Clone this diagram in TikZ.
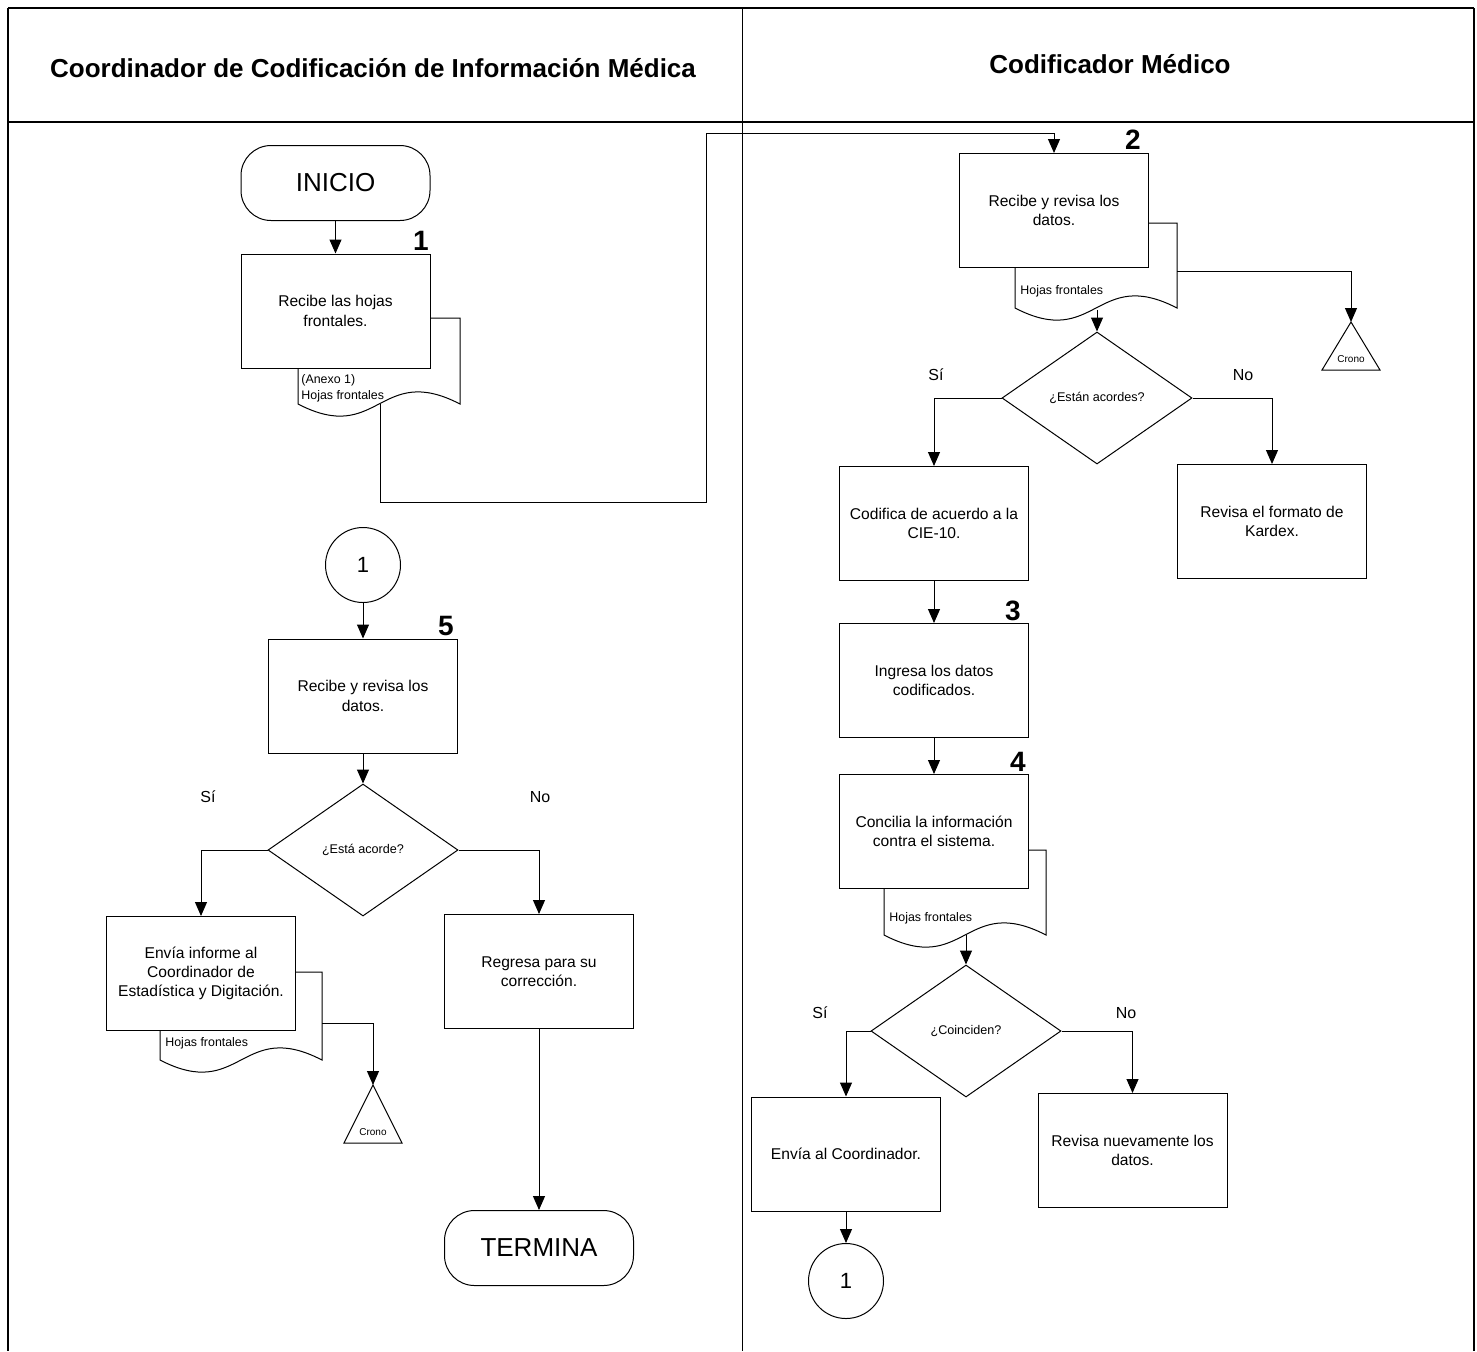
\documentclass[tikz,border=0pt]{standalone}
\usepackage{fontspec}
\setmainfont{Liberation Sans}
\usetikzlibrary{arrows.meta,positioning,calc,shapes.geometric}

% hoja (documento) detras de una caja: izq, fondo caja, der caja, arriba, der, base
\newcommand{\hojas}[6]{%
  \pgfmathsetmacro\hm{(#1+#5)/2}
  \draw[line] (#3,#4) -- (#5,#4) -- (#5,#6)
    .. controls (\hm,#6-42) and (\hm,#6+42) .. (#1,#6) -- (#1,#2);}
\newcommand{\crono}[4]{%
  \coordinate (#1) at (#2,#3);
  \draw[line] (#1) -- ++(-29,#4) -- ++(58,0) -- cycle;
  \node[font=\fontsize{5}{5}\selectfont] at ($(#1)+(0,#4-11)$) {Crono};}

\begin{document}
\begin{tikzpicture}[x=0.5pt,y=-0.5pt]
  \tikzset{line/.style={draw,line width=.5pt},
    box/.style={draw,line width=.5pt,minimum width=94.5pt,minimum height=57pt,
      align=center,inner sep=2pt,font=\fontsize{7.8}{9.6}\selectfont},
    decision/.style={diamond,draw,line width=.5pt,minimum width=95pt,minimum height=66pt,
      inner sep=0pt,aspect=1.44,font=\fontsize{6.3}{7}\selectfont},
    terminal/.style={rectangle,rounded corners=15pt,draw,line width=.5pt,minimum width=94.5pt,
      minimum height=37.5pt,font=\fontsize{13}{13}\selectfont},
    connector/.style={circle,draw,line width=.5pt,minimum size=37.5pt,inner sep=0pt,
      font=\fontsize{11}{11}\selectfont},
    flow/.style={line width=.5pt,-{Triangle[length=7pt,width=6pt]}},
    stepno/.style={font=\fontsize{14}{14}\bfseries\selectfont},
    doctext/.style={anchor=west,align=left,inner sep=0pt,font=\fontsize{6.2}{8}\selectfont},
    answer/.style={font=\fontsize{8}{8}\selectfont},
    lanehead/.style={font=\fontsize{13}{13}\bfseries\selectfont}}
  \useasboundingbox (0,0) rectangle (1477,1351);

  % carriles
  \draw[line width=1pt] (8,8) -- (1474,8);
  \draw[line width=1pt] (8,122) -- (1474,122);
  \draw[line width=.8pt] (8,8) -- (8,1351);
  \draw[line width=.8pt] (1474,8) -- (1474,1351);
  \draw[line width=.5pt] (742,8) -- (742,1351);
  \node[lanehead] (lane1) at (373,68) {Coordinador de Codificación de Información Médica};
  \node[lanehead] (lane2) at (1110,64) {Codificador Médico};

  % Coordinador
  \node[terminal] (inicio) at (335.5,183) {INICIO};
  \node[box] (recibe) at (335.5,311) {Recibe las hojas\\frontales.};
  \node[stepno] at (421,241) {1};
  \hojas{298}{368}{430}{318}{460}{404}
  \node[doctext] at (301,388) {(Anexo 1)\\Hojas frontales};
  \coordinate (hoja1) at (380,404);
  \coordinate (salto) at (706,133);

  \node[connector] (con1) at (363,565) {1};
  \node[box] (revisa5) at (363,696) {Recibe y revisa los\\datos.};
  \node[stepno] at (446,626) {5};
  \node[decision] (acorde) at (363,850) {¿Está acorde?};
  \node[answer] at (208,797) {Sí};
  \node[answer] at (540,797) {No};
  \node[box] (informe) at (201,973.5) {Envía informe al\\Coordinador de\\Estadística y Digitación.};
  \hojas{160}{1030}{296}{972}{322}{1060}
  \node[doctext] at (165,1043) {Hojas frontales};
  \coordinate (hoja5) at (322,1023);
  \crono{crono1}{373}{1085}{58}
  \node[box] (regresa) at (539,971.5) {Regresa para su\\corrección.};
  \node[terminal] (termina) at (539,1248) {TERMINA};

  % Codificador
  \node[box] (revisa2) at (1054,210.5) {Recibe y revisa los\\datos.};
  \node[stepno] at (1133,140) {2};
  \hojas{1015}{268}{1148}{223}{1177}{308}
  \node[doctext] at (1020,291) {Hojas frontales};
  \coordinate (hoja2) at (1097,310);
  \coordinate (hoja2e) at (1177,271);
  \crono{crono2}{1351}{322}{48}
  \node[decision] (acordes) at (1097,398) {¿Están acordes?};
  \node[answer] at (936,375) {Sí};
  \node[answer] at (1243,375) {No};
  \node[box] (codifica) at (934,523.5) {Codifica de acuerdo a la\\CIE-10.};
  \node[box] (kardex) at (1272,521.5) {Revisa el formato de\\Kardex.};
  \node[box] (ingresa) at (934,680.5) {Ingresa los datos\\codificados.};
  \node[stepno] at (1013,611) {3};
  \node[box] (concilia) at (934,831.5) {Concilia la información\\contra el sistema.};
  \node[stepno] at (1018,762) {4};
  \hojas{884}{888}{1028}{850}{1046}{935}
  \node[doctext] at (889,918) {Hojas frontales};
  \coordinate (hoja4) at (966,935);
  \node[decision] (coinciden) at (966,1031) {¿Coinciden?};
  \node[answer] at (820,1013) {Sí};
  \node[answer] at (1126,1013) {No};
  \node[box] (alcoord) at (846,1154) {Envía al Coordinador.};
  \node[box] (nuevamente) at (1132.5,1150.5) {Revisa nuevamente los\\datos.};
  \node[connector] (con2) at (846,1281) {1};

  % flujo
  \draw[flow] (inicio) -- (recibe);
  \draw[flow] (hoja1) -- ++(0,98) -| (salto) -| (revisa2.north);
  \draw[flow] (con1) -- (revisa5);
  \draw[flow] (revisa5) -- (acorde);
  \draw[flow] (acorde.west) -| (informe.north);
  \draw[flow] (acorde.east) -| (regresa.north);
  \draw[flow] (hoja5) -| (crono1);
  \draw[flow] (regresa) -- (termina);
  \draw[flow] (hoja2e) -| (crono2);
  \draw[flow] (hoja2) -- (acordes);
  \draw[flow] (acordes.west) -| (codifica.north);
  \draw[flow] (acordes.east) -| (kardex.north);
  \draw[flow] (codifica) -- (ingresa);
  \draw[flow] (ingresa) -- (concilia);
  \draw[flow] (hoja4) -- (coinciden);
  \draw[flow] (coinciden.west) -| (alcoord.north);
  \draw[flow] (coinciden.east) -| (nuevamente.north);
  \draw[flow] (alcoord) -- (con2);
\end{tikzpicture}
\end{document}
